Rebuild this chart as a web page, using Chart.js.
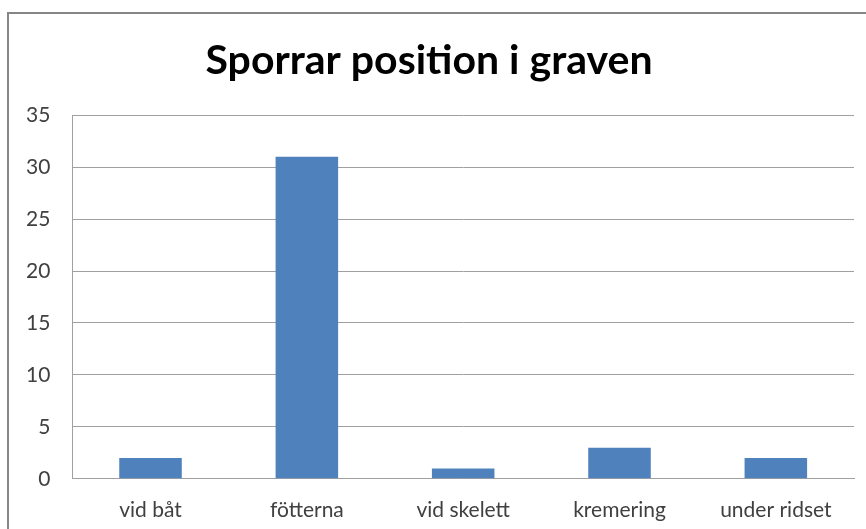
<!DOCTYPE html>
<html>
<head>
<meta charset="utf-8">
<script src="https://cdn.jsdelivr.net/npm/chart.js@4"></script>
<style>
  html, body { margin: 0; padding: 0; background: #fff; }
  #wrap { position: relative; width: 866px; height: 529px; overflow: hidden; }
  #frame {
    position: absolute; left: 7px; top: 12px; width: 900px; height: 600px;
    border-top: 2px solid #868686; border-left: 2px solid #868686;
  }
  canvas { position: absolute; left: 0; top: 0; }
</style>
</head>
<body>
<div id="wrap">
  <div id="frame"></div>
  <canvas id="chart" width="866" height="529"></canvas>
</div>
<script>
const titleText = "Sporrar position i graven";
const categories = ["vid båt", "fötterna", "vid skelett", "kremering", "under ridset"];
const counts = [2, 31, 1, 3, 2];
const yTicks = [0, 5, 10, 15, 20, 25, 30, 35];

const ctx = document.getElementById("chart");

const data = {
  labels: categories,
  datasets: [
    {
      label: "Antal",
      data: counts,
      backgroundColor: "#4F81BD",
      borderWidth: 0,
      categoryPercentage: 1,
      barPercentage: 0.4,
    },
  ],
};

const config = {
  type: "bar",
  data: data,
  options: {
    responsive: false,
    animation: false,
    devicePixelRatio: 1,
    layout: {
      padding: { left: 4, right: 12, top: 36, bottom: -13 },
    },
    plugins: {
      legend: { display: false },
      tooltip: { enabled: false },
      title: {
        display: true,
        text: titleText,
        color: "#000",
        font: { family: "Lato", size: 41, weight: "bold" },
        padding: { top: 0, bottom: 30 },
      },
    },
    scales: {
      x: {
        grid: { display: false, drawTicks: false },
        border: { display: true, color: "#A0A0A0", width: 1 },
        ticks: {
          color: "#404040",
          font: { family: "Lato", size: 21 },
          padding: 19,
          maxRotation: 0,
        },
      },
      y: {
        min: 0,
        max: 35,
        afterBuildTicks: (axis) => {
          axis.ticks = yTicks.map((v) => ({ value: v }));
        },
        grid: { color: "#A0A0A0", lineWidth: 1, drawTicks: false },
        border: { display: true, color: "#A0A0A0", width: 1 },
        ticks: {
          color: "#404040",
          font: { family: "Lato", size: 21 },
          padding: 22,
        },
      },
    },
  },
};

const chart = new Chart(ctx, config);
</script>
</body>
</html>
